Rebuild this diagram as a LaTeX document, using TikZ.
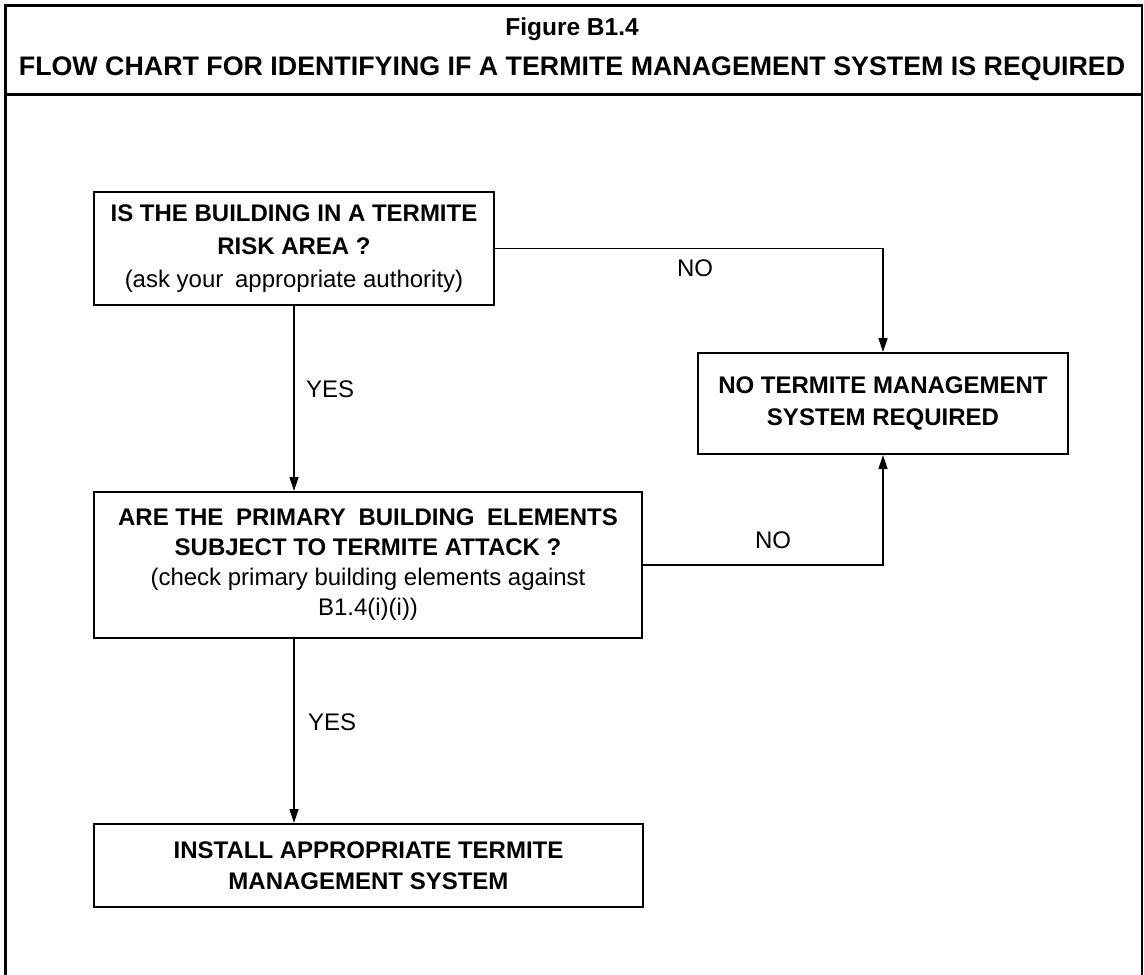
\documentclass[tikz,border=0pt]{standalone}
\usepackage{fontspec}
\setmainfont{Liberation Sans}
\usetikzlibrary{arrows.meta}

\tikzset{
  box/.style={draw, line width=2pt, inner sep=0pt, align=center},
  conn/.style={line width=1.4pt, -{Triangle[length=14pt,width=9pt]}},
  lbl/.style={inner sep=0pt, font=\fontsize{24}{30}\selectfont},
  heading/.style={inner sep=0pt, font=\bfseries\fontsize{26.8}{30}\selectfont},
  frame/.style={line width=3pt},
}

\begin{document}
\begin{tikzpicture}[x=1pt,y=-1pt]
\useasboundingbox (0,0) rectangle (1144,975);

% outer frame and header rule
\draw[frame] (5.5,975) -- (5.5,5) -- (1143,5);
\draw[line width=2pt] (1142,5) -- (1142,975);
\draw[frame] (4,94.5) -- (1143,94.5);

% header
\node[heading, font=\bfseries\fontsize{24.5}{28}\selectfont] (fig) at (572,29) {Figure B1.4};
\node[heading] (title) at (572,69) {FLOW CHART FOR IDENTIFYING IF A TERMITE MANAGEMENT SYSTEM IS REQUIRED};

% decision and outcome boxes
\node[box, minimum width=400pt, minimum height=113pt, font=\fontsize{24}{33}\selectfont]
  (risk) at (294,248.5)
  {\textbf{IS THE BUILDING IN A TERMITE}\\\textbf{RISK AREA ?}\\(ask your\hspace{5pt} appropriate authority)};

\node[box, minimum width=370pt, minimum height=101pt, font=\bfseries\fontsize{24}{32}\selectfont]
  (none) at (883,403.5)
  {NO TERMITE MANAGEMENT\\SYSTEM REQUIRED};

\node[box, minimum width=548pt, minimum height=146pt, font=\fontsize{24}{30}\selectfont]
  (attack) at (368,565)
  {\textbf{ARE THE\hspace{6pt} PRIMARY\hspace{6pt} BUILDING\hspace{6pt} ELEMENTS}\\\textbf{SUBJECT TO TERMITE ATTACK ?}\\(check primary building elements against\\B1.4(i)(i))};

\node[box, minimum width=549pt, minimum height=83pt, font=\bfseries\fontsize{24}{31}\selectfont]
  (install) at (368.5,865.5)
  {INSTALL APPROPRIATE TERMITE\\MANAGEMENT SYSTEM};

% connectors
\draw[conn] (risk.south) -- (risk.south |- attack.north);
\draw[conn] (risk.east) -| (none.north);
\draw[conn] (attack.east) -| (none.south);
\draw[conn] (risk.south |- attack.south) -- (risk.south |- install.north);

% branch labels
\node[lbl] (no1) at (695,268) {NO};
\node[lbl] (no2) at (773,540) {NO};
\node[lbl, anchor=west] (yes1) at (306,389) {YES};
\node[lbl, anchor=west] (yes2) at (308,722) {YES};
\end{tikzpicture}
\end{document}
